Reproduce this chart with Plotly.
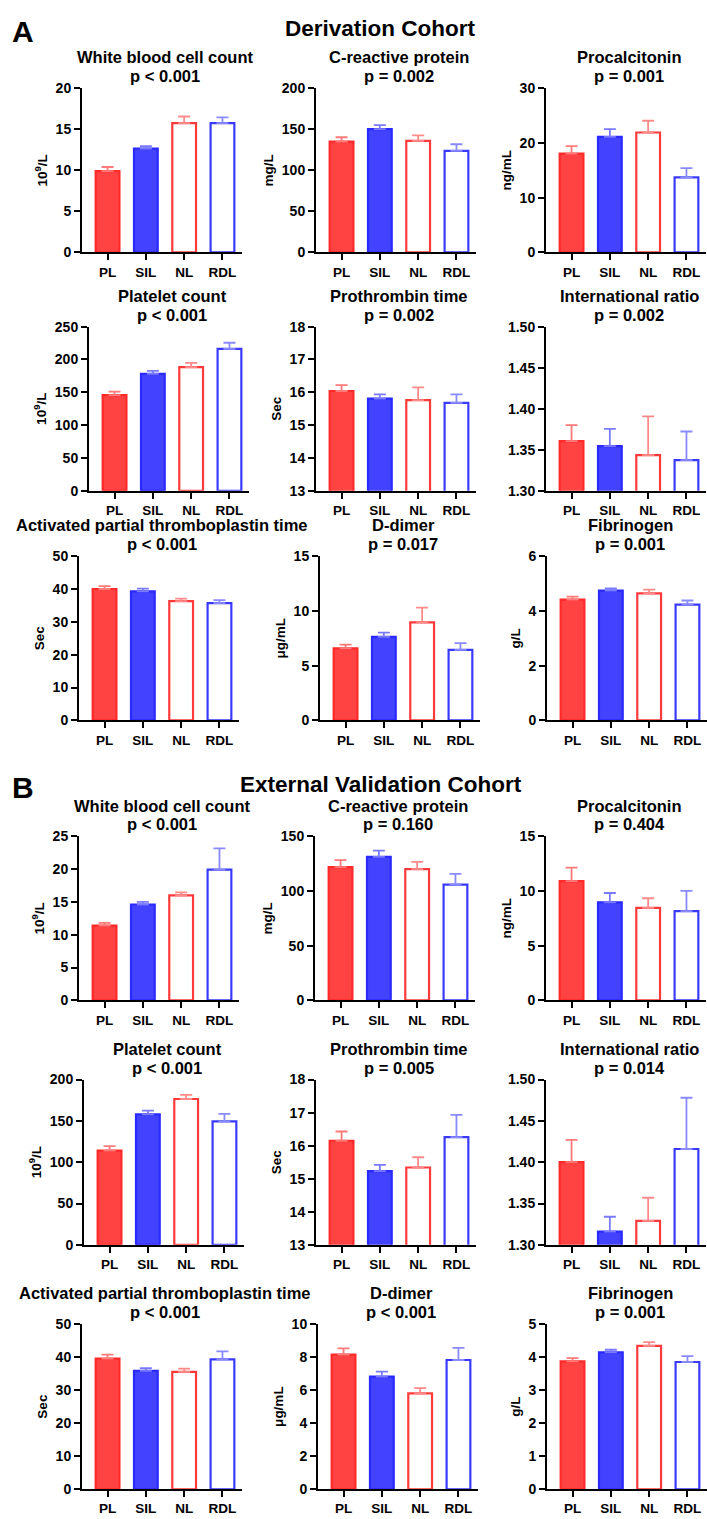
import plotly.graph_objects as go

# ---------------- data ----------------
categories = ["PL", "SIL", "NL", "RDL"]

panel_titles = ["White blood cell count", "C-reactive protein", "Procalcitonin",
                "Platelet count", "Prothrombin time", "International ratio",
                "Activated partial thromboplastin time", "D-dimer", "Fibrinogen"]
y_units = ["10<sup>9</sup>/L", "mg/L", "ng/mL", "10<sup>9</sup>/L", "Sec", None,
           "Sec", "μg/mL", "g/L"]

p_derivation = ["p < 0.001", "p = 0.002", "p = 0.001", "p < 0.001", "p = 0.002",
                "p = 0.002", "p < 0.001", "p = 0.017", "p = 0.001"]
p_validation = ["p < 0.001", "p = 0.160", "p = 0.404", "p < 0.001", "p = 0.005",
                "p = 0.014", "p < 0.001", "p < 0.001", "p = 0.001"]

# axis ranges (min, max, tick step)
yaxis_derivation = [(0, 20, 5), (0, 200, 50), (0, 30, 10), (0, 250, 50), (13, 18, 1),
                    (1.30, 1.50, 0.05), (0, 50, 10), (0, 15, 5), (0, 6, 2)]
yaxis_validation = [(0, 25, 5), (0, 150, 50), (0, 15, 5), (0, 200, 50), (13, 18, 1),
                    (1.30, 1.50, 0.05), (0, 50, 10), (0, 10, 2), (0, 5, 1)]

# Derivation cohort: mean and mean+SEM
wbc_A_mean = [9.9, 12.65, 15.75, 15.75]
wbc_A_upper = [10.4, 12.95, 16.55, 16.45]
crp_A_mean = [135.0, 150.2, 135.7, 123.7]
crp_A_upper = [140.2, 155.0, 142.6, 131.7]
pct_A_mean = [18.05, 21.1, 21.9, 13.7]
pct_A_upper = [19.4, 22.5, 24.05, 15.4]
plt_A_mean = [145.6, 178.2, 188.2, 216.0]
plt_A_upper = [151.0, 182.7, 194.8, 225.4]
pt_A_mean = [16.04, 15.81, 15.76, 15.68]
pt_A_upper = [16.22, 15.94, 16.15, 15.94]
inr_A_mean = [1.3606, 1.3545, 1.3434, 1.3375]
inr_A_upper = [1.380, 1.3755, 1.3908, 1.3723]
aptt_A_mean = [40.0, 39.3, 36.3, 35.7]
aptt_A_upper = [40.9, 40.1, 37.1, 36.6]
ddim_A_mean = [6.57, 7.62, 8.95, 6.45]
ddim_A_upper = [6.93, 8.01, 10.3, 7.05]
fib_A_mean = [4.41, 4.74, 4.64, 4.23]
fib_A_upper = [4.52, 4.82, 4.78, 4.38]

# External validation cohort: mean and mean+SEM
wbc_B_mean = [11.4, 14.6, 16.0, 19.9]
wbc_B_upper = [11.8, 15.0, 16.45, 23.15]
crp_B_mean = [121.8, 131.1, 120.0, 105.8]
crp_B_upper = [128.1, 136.8, 126.6, 115.5]
pct_B_mean = [10.9, 8.95, 8.45, 8.15]
pct_B_upper = [12.12, 9.81, 9.33, 10.0]
plt_B_mean = [114.0, 158.0, 176.5, 149.5]
plt_B_upper = [119.5, 162.5, 181.5, 158.5]
pt_B_mean = [16.15, 15.23, 15.34, 16.26]
pt_B_upper = [16.43, 15.42, 15.65, 16.93]
inr_B_mean = [1.400, 1.316, 1.329, 1.416]
inr_B_upper = [1.427, 1.334, 1.357, 1.478]
aptt_B_mean = [39.5, 35.8, 35.5, 39.3]
aptt_B_upper = [40.7, 36.6, 36.5, 41.7]
ddim_B_mean = [8.15, 6.82, 5.8, 7.82]
ddim_B_upper = [8.52, 7.12, 6.12, 8.55]
fib_B_mean = [3.87, 4.14, 4.34, 3.85]
fib_B_upper = [3.97, 4.22, 4.45, 4.03]

means_A = [wbc_A_mean, crp_A_mean, pct_A_mean, plt_A_mean, pt_A_mean, inr_A_mean,
           aptt_A_mean, ddim_A_mean, fib_A_mean]
uppers_A = [wbc_A_upper, crp_A_upper, pct_A_upper, plt_A_upper, pt_A_upper, inr_A_upper,
            aptt_A_upper, ddim_A_upper, fib_A_upper]
means_B = [wbc_B_mean, crp_B_mean, pct_B_mean, plt_B_mean, pt_B_mean, inr_B_mean,
           aptt_B_mean, ddim_B_mean, fib_B_mean]
uppers_B = [wbc_B_upper, crp_B_upper, pct_B_upper, plt_B_upper, pt_B_upper, inr_B_upper,
            aptt_B_upper, ddim_B_upper, fib_B_upper]

# ---------------- layout / style ----------------
W, H = 707, 1519
FONT = "Arial, Liberation Sans, Helvetica, sans-serif"

row_px = [(81, 247), (322, 488), (554, 720), (837, 1003), (1083, 1250), (1330, 1497)]
col_left_px = [[82, 316, 546], [89, 316, 546], [79, 320, 547],
               [79, 315, 546], [84, 316, 546], [82, 318, 547]]
COL_W = 160
X_RANGE = [-0.667, 3.51]

fills = ["#ff4242", "#4242ff", "white", "white"]
edges = ["#ff2a2a", "#2a2aff", "#ff3a3a", "#3a3aff"]
err_cols = ["#ff7a7a", "#7a7aff", "#ff8a8a", "#8a8aff"]


def px_x(p):
    return p / W


def px_y(p):
    return 1 - p / H


fig = go.Figure()
layout = dict(width=W, height=H, margin=dict(l=0, r=0, t=0, b=0),
              paper_bgcolor="white", plot_bgcolor="white", barmode="overlay",
              showlegend=False, font=dict(family=FONT, color="black"))
annotations = []

cohorts = [(means_A, uppers_A, p_derivation, yaxis_derivation),
           (means_B, uppers_B, p_validation, yaxis_validation)]

n = 0
for ci, (means, uppers, pvals, yax) in enumerate(cohorts):
    for k in range(9):
        n += 1
        r = ci * 3 + k // 3
        c = k % 3
        top, bot = row_px[r]
        left = col_left_px[r][c]
        xa = "x" if n == 1 else f"x{n}"
        ya = "y" if n == 1 else f"y{n}"
        for i, cat in enumerate(categories):
            m = means[k][i]
            u = uppers[k][i]
            fig.add_trace(go.Bar(
                x=[cat], y=[m], width=[0.62], xaxis=xa, yaxis=ya,
                marker=dict(color=fills[i], line=dict(color=edges[i], width=2.2)),
                error_y=dict(type="data", symmetric=False, array=[u - m], arrayminus=[0],
                             color=err_cols[i], thickness=1.8, width=6),
                hoverinfo="skip"))
        ymin, ymax, step = yax[k]
        nt = int(round((ymax - ymin) / step))
        tvals = [ymin + j * step for j in range(nt + 1)]
        if step < 1:
            ttext = [f"{v:.2f}" for v in tvals]
        else:
            ttext = [f"{v:g}" for v in tvals]
        key = "" if n == 1 else str(n)
        layout["xaxis" + key] = dict(
            domain=[px_x(left), px_x(left + COL_W)], anchor=ya, type="category",
            categoryorder="array", categoryarray=categories, range=X_RANGE,
            showline=True, linecolor="black", linewidth=2, ticks="outside",
            ticklen=6, tickwidth=2, tickcolor="black", showgrid=False, zeroline=False,
            tickfont=dict(family=FONT, size=13.5, color="black", weight="bold"))
        yaxis = dict(
            domain=[px_y(bot), px_y(top)], anchor=xa, range=[ymin, ymax],
            tickvals=tvals, ticktext=ttext,
            showline=True, linecolor="black", linewidth=2, ticks="outside",
            ticklen=6, tickwidth=2, tickcolor="black", showgrid=False, zeroline=False,
            tickfont=dict(family=FONT, size=14, color="black", weight="bold"))
        if y_units[k]:
            yaxis["title"] = dict(text=y_units[k], standoff=5,
                                  font=dict(family=FONT, size=13.5, color="black", weight="bold"))
        layout["yaxis" + key] = yaxis
        cx = px_x(left + COL_W / 2 + 3)
        annotations.append(dict(text=panel_titles[k], x=cx, y=px_y(top - 31),
                                xref="paper", yref="paper", showarrow=False,
                                xanchor="center", yanchor="middle",
                                font=dict(family=FONT, size=16.5, color="black", weight="bold")))
        annotations.append(dict(text=pvals[k], x=cx, y=px_y(top - 12),
                                xref="paper", yref="paper", showarrow=False,
                                xanchor="center", yanchor="middle",
                                font=dict(family=FONT, size=16.5, color="black", weight="bold")))

# section headings
for label, heading, ypx in [("A", "Derivation Cohort", 21), ("B", "External Validation Cohort", 785)]:
    annotations.append(dict(text=heading, x=px_x(381), y=px_y(ypx), xref="paper", yref="paper",
                            showarrow=False, xanchor="center", yanchor="middle",
                            font=dict(family=FONT, size=22.5, color="black", weight="bold")))
    annotations.append(dict(text=label, x=px_x(23), y=px_y(ypx + 3), xref="paper", yref="paper",
                            showarrow=False, xanchor="center", yanchor="middle",
                            font=dict(family=FONT, size=30, color="black", weight="bold")))

layout["annotations"] = annotations
fig.update_layout(**layout)
fig.write_html("out.html")
